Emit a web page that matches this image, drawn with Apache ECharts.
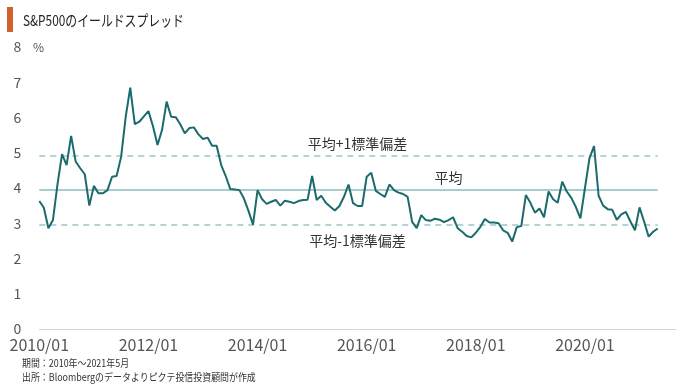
<!DOCTYPE html>
<html>
<head>
<meta charset="utf-8">
<script src="https://cdn.jsdelivr.net/npm/echarts@6/dist/echarts.min.js"></script>
<style>
html,body{margin:0;padding:0;background:#fff;}
#c{width:680px;height:386px;}
</style>
</head>
<body>
<div id="c"></div>
<script>
// Monthly yield spread, 2010/01 - 2021/05 (%)
const spread = [
3.63,3.44,2.86,3.09,4.10,4.96,4.65,5.48,4.75,4.56,
4.39,3.50,4.06,3.85,3.85,3.94,4.32,4.34,4.89,6.02,
6.85,5.81,5.88,6.03,6.18,5.75,5.22,5.65,6.45,6.02,
6.01,5.81,5.55,5.70,5.72,5.52,5.39,5.43,5.20,5.20,
4.65,4.34,3.97,3.96,3.94,3.70,3.35,2.96,3.94,3.68,
3.55,3.61,3.66,3.50,3.64,3.61,3.57,3.63,3.66,3.67,
4.34,3.66,3.78,3.58,3.47,3.36,3.49,3.75,4.10,3.57,
3.49,3.49,4.32,4.43,3.92,3.83,3.75,4.10,3.94,3.87,
3.83,3.75,3.04,2.86,3.23,3.09,3.07,3.13,3.10,3.03,
3.09,3.17,2.86,2.76,2.64,2.60,2.73,2.90,3.12,3.02,
3.02,3.00,2.80,2.73,2.48,2.89,2.92,3.80,3.58,3.30,
3.42,3.17,3.90,3.68,3.58,4.18,3.90,3.72,3.46,3.14,
4.00,4.85,5.19,3.78,3.50,3.40,3.38,3.10,3.25,3.32,
3.05,2.80,3.45,3.05,2.62,2.76,2.85
];
const meanValue = 3.94;
const plusSD = 4.91;
const minusSD = 2.96;
const refLabels = ['平均+1標準偏差', '平均', '平均-1標準偏差'];
const xTickLabels = ['2010/01','2012/01','2014/01','2016/01','2018/01','2020/01'];
const yTicks = [0,1,2,3,4,5,6,7,8];
const titleText = 'S&P500のイールドスプレッド';
const footer = ['期間：2010年～2021年5月', '出所：Bloombergのデータよりピクテ投信投資顧問が作成'];

// categories: monthly from 2010/01 through 2021/09 (axis extends beyond data)
const categories = [];
for (let y = 2010; y <= 2021; y++) {
  for (let m = 1; m <= 12; m++) {
    if (y === 2021 && m > 9) break;
    categories.push(y + '/' + (m < 10 ? '0' + m : m));
  }
}
const lastIdx = spread.length - 1;

const FONT = '"Noto Sans CJK JP", "Noto Sans", sans-serif';
const chart = echarts.init(document.getElementById('c'), null, {renderer: 'canvas'});

function refLine(v, text, pos, dist, off, style) {
  return [
    {coord: [categories[0], v], lineStyle: style,
     label: {formatter: text, position: pos, distance: dist, offset: off}},
    {coord: [categories[lastIdx], v]}
  ];
}
const dashStyle = {color: '#9cc5c6', width: 1.5, type: [6, 5]};
const meanStyle = {color: '#8dbcbd', width: 1.5, type: 'solid'};

chart.setOption({
  animation: false,
  backgroundColor: '#fff',
  textStyle: {fontFamily: FONT},
  grid: {left: 39.3, right: 4.1, top: 47, bottom: 57, containLabel: false},
  xAxis: {
    type: 'category',
    data: categories,
    boundaryGap: false,
    axisLine: {show: true, lineStyle: {color: '#d6d6d6', width: 1}},
    axisTick: {show: false},
    splitLine: {show: false},
    axisLabel: {
      interval: function (i, v) { return xTickLabels.indexOf(v) >= 0; },
      formatter: function (v) { return xTickLabels.indexOf(v) >= 0 ? v : ''; },
      color: '#555', fontSize: 16, margin: 8, fontFamily: FONT
    }
  },
  yAxis: {
    type: 'value', min: 0, max: 8, interval: 1,
    axisLine: {show: false}, axisTick: {show: false}, splitLine: {show: false},
    axisLabel: {
      color: '#555', fontSize: 14, margin: 22, align: 'center', fontFamily: FONT,
      formatter: function (v) { return yTicks.indexOf(v) >= 0 ? String(v) : ''; }
    }
  },
  series: [{
    type: 'line',
    data: spread,
    symbol: 'none',
    lineStyle: {color: '#1b6b6c', width: 2},
    z: 5,
    markLine: {
      silent: true,
      symbol: ['none', 'none'],
      label: {color: '#333', fontSize: 14, fontFamily: FONT},
      data: [
        refLine(plusSD, refLabels[0], 'insideMiddleTop', 5, [9, 0], dashStyle),
        refLine(meanValue, refLabels[1], 'insideMiddleTop', 5, [100, 0], meanStyle),
        refLine(minusSD, refLabels[2], 'insideMiddleBottom', 9, [9, 0], dashStyle)
      ]
    }
  }],
  graphic: [
    {type: 'rect', left: 7, top: 7, shape: {width: 6, height: 25}, style: {fill: '#d2622b'}},
    {type: 'text', x: 23, y: 20, scaleX: 0.79,
      style: {text: titleText, font: '15px ' + FONT, fill: '#222', verticalAlign: 'middle'}},
    {type: 'text', x: 33, y: 47,
      style: {text: '%', font: '12px ' + FONT, fill: '#555', verticalAlign: 'middle'}},
    {type: 'text', x: 22, y: 363, scaleX: 0.85,
      style: {text: footer[0], font: '10.5px ' + FONT, fill: '#333', verticalAlign: 'middle'}},
    {type: 'text', x: 22, y: 377, scaleX: 0.85,
      style: {text: footer[1], font: '10.5px ' + FONT, fill: '#333', verticalAlign: 'middle'}}
  ]
});
</script>
</body>
</html>
